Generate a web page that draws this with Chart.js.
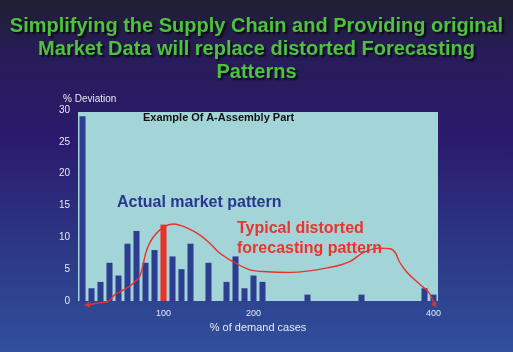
<!DOCTYPE html>
<html>
<head>
<meta charset="utf-8">
<script src="https://cdn.jsdelivr.net/npm/chart.js@4"></script>
<style>
  html,body{margin:0;padding:0;}
  body{width:513px;height:352px;overflow:hidden;
    background:linear-gradient(to bottom,#1f1f30 0%,#271c56 14%,#2b1a6e 40%,#2c3482 66%,#30509c 100%);}
  #wrap{position:relative;width:513px;height:352px;}
  .txt{position:absolute;white-space:nowrap;font-family:"Liberation Sans",Arial,sans-serif;}
  #title{left:0;top:14px;width:513px;text-align:center;font-weight:bold;font-size:20px;line-height:23px;
    color:#4dc23d;text-shadow:2px 2px 2px rgba(0,0,0,0.75);}
</style>
</head>
<body>
<div id="wrap">
  <canvas id="c" width="513" height="352"></canvas>
  <div id="title" class="txt">Simplifying the Supply Chain and Providing original<br>Market Data will replace distorted Forecasting<br>Patterns</div>
  <div class="txt" style="left:63px;top:93px;font-size:10px;line-height:12px;color:#e4e7f2;">% Deviation</div>
  <div class="txt" style="left:143px;top:111px;font-size:11px;line-height:13px;font-weight:bold;color:#111;">Example Of A-Assembly Part</div>
  <div class="txt" style="left:117px;top:193px;font-size:16px;line-height:18px;font-weight:bold;color:#2b3491;">Actual market pattern</div>
  <div class="txt" style="left:237px;top:218px;font-size:16px;line-height:20px;font-weight:bold;color:#e8352b;">Typical distorted<br>forecasting pattern</div>
</div>
<script>
// ---- data ----
const categories = [10,20,30,40,50,60,70,80,90,100,110,120,130,140,150,160,170,180,190,200,
                    210,220,230,240,250,260,270,280,290,300,310,320,330,340,350,360,370,380,390,400];
const deviation  = [29,2,3,6,4,9,11,6,8,12,7,5,9,0,6,0,3,7,2,4,
                    3,0,0,0,0,1,0,0,0,0,0,1,0,0,0,0,0,0,2,1];
const highlightCategory = 100;
const xTickLabels = [100,200,400];
const yTicks = [0,5,10,15,20,25,30];
// hand-drawn forecast curve: [% of demand, % deviation]
const forecastX = [16,29,40,46,54,62,68,74,77,80,85,92,100,111,126,141,152,161,177,196,215,241,282,307,322,340,352,358,362,370,385,396,401];
const forecastY = [-0.6,-0.3,0.1,1.0,1.6,2.3,3.0,4.0,5.5,7.4,9.2,10.6,11.6,12.1,11.5,10.3,9.0,7.7,6.2,4.9,4.6,4.5,5.2,6.2,7.6,8.3,8.2,7.5,6.2,4.6,2.6,1.1,-0.5];

const navy = '#2d3d8f', red = '#e8322a';
const barColors = categories.map(c => c === highlightCategory ? red : navy);
const curvePts = forecastX.map((x,i)=>({x:x,y:forecastY[i]}));
const last = curvePts.length-1;
const ptRadius = curvePts.map((p,i)=> (i===0||i===last)?3.5:0);
const ptRot = curvePts.map((p,i)=> i===0?262:(i===last?155:0));

const plotBg = {
  id:'plotBg',
  beforeDraw(chart){
    const {ctx, chartArea:a} = chart;
    ctx.save();
    ctx.fillStyle = '#a3d5d8';
    ctx.fillRect(a.left, a.top+2, a.right-a.left, a.bottom-a.top-2);
    ctx.restore();
  }
};

new Chart(document.getElementById('c'), {
  type:'bar',
  data:{
    labels:categories,
    datasets:[
      {type:'line', data:curvePts, xAxisID:'x2', borderColor:red, borderWidth:1.4,
       backgroundColor:red, pointStyle:'triangle', pointRadius:ptRadius, pointRotation:ptRot,
       pointBorderWidth:0, tension:0.4, cubicInterpolationMode:'monotone', fill:false, clip:false, order:0},
      {type:'bar', data:deviation, xAxisID:'x', backgroundColor:barColors, grouped:false,
       barPercentage:0.67, categoryPercentage:1.0, order:1}
    ]
  },
  options:{
    responsive:false, animation:false,
    layout:{padding:{left:0, right:75, top:110, bottom:0}},
    plugins:{legend:{display:false}, tooltip:{enabled:false}, title:{display:false}},
    scales:{
      x:{
        type:'category', offset:true,
        grid:{display:false, drawTicks:false}, border:{display:false},
        ticks:{autoSkip:false, maxRotation:0, padding:7, color:'#e6e9f3',
          font:{family:'Liberation Sans', size:9},
          callback:function(v,i){ const c = categories[i]; return xTickLabels.includes(c)? String(c):''; }},
        title:{display:true, text:'% of demand cases', color:'#e6e9f3',
          font:{family:'Liberation Sans', size:11}, padding:{top:0,bottom:17}},
        afterFit(s){ s.height = 51; }
      },
      x2:{type:'linear', display:false, offset:false, min:5, max:405, grid:{offset:false}},
      y:{
        min:0, max:30,
        grid:{display:false, drawTicks:false}, border:{display:false},
        afterBuildTicks(s){ s.ticks = yTicks.map(v=>({value:v})); },
        ticks:{padding:8, color:'#e6e9f3', font:{family:'Liberation Sans', size:10}},
        afterFit(s){ s.width = 78; }
      }
    }
  },
  plugins:[plotBg]
});
</script>
</body>
</html>
